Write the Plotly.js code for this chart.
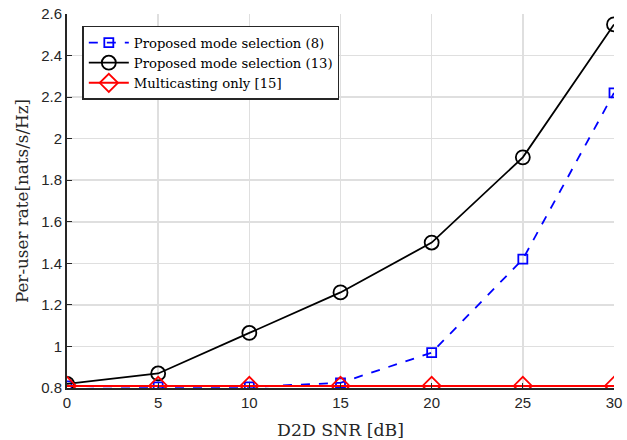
<!DOCTYPE html>
<html><head><meta charset="utf-8">
<script src="https://cdn.plot.ly/plotly-3.0.1.min.js"></script>
<style>body{margin:0;background:#fff}#c{width:627px;height:440px}</style>
</head><body><div id="c"></div>
<script>
const snr = [0, 5, 10, 15, 20, 25, 30];
const rateMode8 = [0.81, 0.805, 0.805, 0.825, 0.97, 1.42, 2.22];
const rateMode13 = [0.82, 0.87, 1.065, 1.26, 1.50, 1.91, 2.55];
const rateMulticast = [0.81, 0.81, 0.81, 0.81, 0.81, 0.81, 0.81];
const names = ['Proposed mode selection (8)', 'Proposed mode selection (13)', 'Multicasting only [15]'];
const yTicks = [0.8, 1, 1.2, 1.4, 1.6, 1.8, 2, 2.2, 2.4, 2.6];
const yTickText = ['0.8', '1', '1.2', '1.4', '1.6', '1.8', '2', '2.2', '2.4', '2.6'];

const serif = 'DejaVu Serif, Liberation Serif, serif';
const traces = [
  {x: snr, y: rateMode8, name: names[0], mode: 'lines+markers',
   line: {color: '#0000ff', width: 1.8, dash: 'dash'},
   marker: {symbol: 'square-open', size: 9, color: '#0000ff', line: {width: 1.8}}},
  {x: snr, y: rateMode13, name: names[1], mode: 'lines+markers',
   line: {color: '#000000', width: 1.8},
   marker: {symbol: 'circle-open', size: 14, color: '#000000', line: {width: 1.8}}},
  {x: snr, y: rateMulticast, name: names[2], mode: 'lines+markers',
   line: {color: '#ff0000', width: 2},
   marker: {symbol: 'diamond-open', size: 14, color: '#ff0000', line: {width: 1.8}}}
];

const layout = {
  width: 627, height: 440,
  margin: {l: 67, r: 13, t: 14, b: 52},
  paper_bgcolor: '#fff', plot_bgcolor: '#fff',
  font: {family: 'Liberation Sans, Arial, sans-serif', size: 14, color: '#262626'},
  xaxis: {
    range: [0, 30], tickvals: snr, ticktext: snr.map(String),
    showgrid: true, gridcolor: '#dfdfdf', gridwidth: 1.5,
    showline: true, linecolor: '#262626', linewidth: 2,
    ticks: 'inside', ticklen: 5, tickcolor: '#262626', zeroline: false,
    tickfont: {size: 15},
    title: {text: 'D2D SNR [dB]', font: {family: serif, size: 17.3, color: '#262626'}, standoff: 14}
  },
  yaxis: {
    range: [0.8, 2.6], tickvals: yTicks, ticktext: yTickText,
    showgrid: true, gridcolor: '#dfdfdf', gridwidth: 1.5,
    showline: true, linecolor: '#262626', linewidth: 2,
    ticks: 'inside', ticklen: 5, tickcolor: '#262626', zeroline: false,
    tickfont: {size: 15},
    title: {text: 'Per-user rate[nats/s/Hz]', font: {family: serif, size: 16.8, color: '#262626'}, standoff: 8}
  },
  showlegend: true,
  legend: {
    x: 0.028, y: 0.968, xanchor: 'left', yanchor: 'top',
    bgcolor: '#fff', bordercolor: '#262626', borderwidth: 1.5,
    font: {family: serif, size: 13.2, color: '#000'},
    tracegroupgap: 0, itemwidth: 40
  }
};

Plotly.newPlot('c', traces, layout, {displayModeBar: false, staticPlot: true});
</script></body></html>
